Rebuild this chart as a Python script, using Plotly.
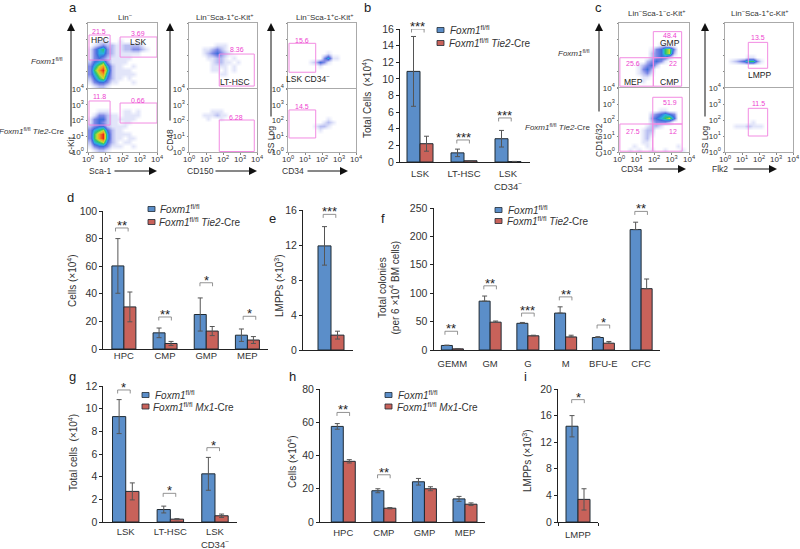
import plotly.graph_objects as go

W, H = 800, 549
FONT = "Liberation Sans"
TXT = "#333333"
BLUE, RED = "#5b8ec9", "#c8625a"
GATE = "#f28be2"
PCT = "#ee3fd0"

FOX = "<i>Foxm1</i><sup>fl/fl</sup>"
TIE = "<i>Foxm1</i><sup>fl/fl</sup> <i>Tie2</i>-Cre"
MX = "<i>Foxm1</i><sup>fl/fl</sup> <i>Mx1</i>-Cre"

# ---------- bar chart values ----------
b_cats = ["LSK", "LT-HSC", "LSK<br>CD34<sup>−</sup>"]
b_ctrl = [10.9, 1.1, 2.8]
b_ctrl_err = [4.2, 0.45, 1.0]
b_cre = [2.2, 0.15, 0.05]
b_cre_err = [0.9, 0.03, 0.02]
b_sig = ["***", "***", "***"]
b_sig_level = [16.0, 2.65, 5.3]
b_sig_x = [-0.05, 0.98, 1.93]

d_cats = ["HPC", "CMP", "GMP", "MEP"]
d_ctrl = [60.2, 11.7, 25, 10]
d_ctrl_err = [19.8, 3.5, 12, 4.5]
d_cre = [30.5, 4, 13, 6.5]
d_cre_err = [10.8, 1.5, 3.3, 2.5]
d_sig = ["**", "**", "*", "*"]
d_sig_level = [87.7, 23.2, 48, 23.7]
d_sig_x = [-0.05, 1.0, 2.0, 3.05]

e_cats = ["LMPP"]
e_ctrl = [11.9]
e_ctrl_err = [2.2]
e_cre = [1.7]
e_cre_err = [0.45]
e_sig = ["***"]
e_sig_level = [15.5]
e_sig_x = [-0.03]

f_cats = ["GEMM", "GM", "G", "M", "BFU-E", "CFC"]
f_ctrl = [8, 86, 47, 65, 22, 212]
f_ctrl_err = [0.5, 9, 1.5, 11, 1.5, 13]
f_cre = [2, 49, 25, 23, 12, 108]
f_cre_err = [0.5, 2, 1, 3, 3, 17]
f_sig = ["**", "**", "***", "**", "*", "**"]
f_sig_level = [33, 113, 65, 93.5, 44, 244]
f_sig_x = [-0.03, 1, 2, 3, 4, 5]

g_cats = ["LSK", "LT-HSC", "LSK<br>CD34<sup>−</sup>"]
g_ctrl = [9.3, 1.1, 4.25]
g_ctrl_err = [1.5, 0.3, 1.45]
g_cre = [2.7, 0.25, 0.55]
g_cre_err = [0.75, 0.05, 0.15]
g_sig = ["*", "*", "*"]
g_sig_level = [11.65, 2.53, 6.56]
g_sig_x = [-0.04, 0.98, 1.96]

h_cats = ["HPC", "CMP", "GMP", "MEP"]
h_ctrl = [57.5, 18.8, 24.2, 13.9]
h_ctrl_err = [1.7, 1.2, 2, 1.5]
h_cre = [36.5, 8.3, 20, 10.7]
h_cre_err = [1, 0.4, 1.2, 0.8]
h_sig = ["**", "**"]
h_sig_level = [65.9, 28.4]
h_sig_x = [0, 1]

i_cats = ["LMPP"]
i_ctrl = [14.4]
i_ctrl_err = [1.6]
i_cre = [3.4]
i_cre_err = [1.6]
i_sig = ["*"]
i_sig_level = [18.4]
i_sig_x = [0]

# ---------- flow cytometry densities, read by eye (rows top to bottom, 0-9) ----------
Z0 = "0000000000000000"
flow_a1_top = [Z0, Z0, Z0, Z0,
    "0011100100000000", "0123221122221000", "1356321122332100", "1355321111110000",
    "1343211111000000", "2456311110000000", "3578521100100000", "3689621111000000",
    "3578521111100000", "2467421101000000", "1344311000100000", "0122100000000000"]
flow_a1_bot = [Z0, Z0, Z0, Z0,
    "0000000000000000", "0011100011010000", "0133211011110000", "1344211111100000",
    "1343211011000000", "2344211110000000", "3567421100000000", "3689521111000000",
    "3689521101100000", "2567421011000000", "1344311100100000", "0122100000000000"]
flow_a2_top = [Z0, Z0, Z0, Z0, Z0,
    "0000001110000000", "0001123210000000", "0001234321000000", "0000112210100000",
    "0000012211010000", "0000011110100000", "0000011010100000", "0000000110000000",
    Z0, Z0, Z0]
flow_a2_bot = [Z0, Z0, Z0, Z0, Z0,
    "0000011100000000", "0001112110000000", "0000100100000000",
    Z0, Z0, Z0, Z0, Z0, Z0, Z0, Z0]
flow_a3_top = [Z0, Z0, Z0, Z0, Z0, Z0, Z0,
    "0000000001000000", "0000000035110000", "0000012431000000", "0000000100000000",
    Z0, Z0, Z0, Z0, Z0]
flow_a3_bot = [Z0, Z0, Z0, Z0, Z0, Z0, Z0,
    "0000000001000000", "0000000012100000", "0000001221000000", "0000000100000000",
    Z0, Z0, Z0, Z0, Z0]
flow_c1_top = [Z0, Z0, Z0, Z0, Z0,
    "0000000001100000", "0000000134673000", "0000000234672000", "0000000234420000",
    "0000002343100000", "0000123420000000", "0000134200000000", "0000123100000000",
    "0000011000000000", "0000010000000000", Z0]
flow_c1_bot = [Z0, Z0, Z0, Z0, Z0,
    "0000000001100000", "0000000234543000", "0000000345674000", "0000000233320000",
    "0000001221000000", "0000012200000000", "0000012100000000", "0000012000000000",
    "0000011000000000", "0001001000000100", "0010100100100010"]
flow_c2_top = [Z0, Z0, Z0, Z0, Z0, Z0, Z0, Z0,
    "0000011000000000", "0123466310000000",
    Z0, Z0, Z0, Z0, Z0, Z0]
flow_c2_bot = [Z0, Z0, Z0, Z0, Z0, Z0, Z0, Z0,
    "0000001000000000", "0011121110000000",
    Z0, Z0, Z0, Z0, Z0, Z0]

decades = [0, 1, 2, 3, 4]
decade_labels = ["10<sup>0</sup>", "10<sup>1</sup>", "10<sup>2</sup>", "10<sup>3</sup>", "10<sup>4</sup>"]

COLORS = [[0, "#ffffff"], [1/9, "#e2e5f9"], [2/9, "#b8bef1"], [3/9, "#7f8ae6"], [4/9, "#3f6fdc"],
          [5/9, "#29b0e0"], [6/9, "#2fc46a"], [7/9, "#c8dc30"], [8/9, "#f59a20"], [1, "#e8261c"]]

fig = go.Figure()
layout = {}
shapes = []
ann = []
axis_n = [0]


def px(x):
    return x / W


def py(y):
    return 1 - y / H


def text(x, y, s, size=9, color=TXT, xanchor="center", angle=0, font=FONT):
    ann.append(dict(x=px(x), y=py(y), xref="paper", yref="paper", text=s, showarrow=False,
                    xanchor=xanchor, yanchor="middle", textangle=angle,
                    font=dict(size=size, color=color, family=font)))


def arrow(x0, y0, x1, y1):
    ann.append(dict(x=px(x1), y=py(y1), ax=x0 - x1, ay=y0 - y1, xref="paper", yref="paper",
                    axref="pixel", ayref="pixel", text="", showarrow=True, arrowhead=2,
                    arrowsize=1.6, arrowwidth=1, arrowcolor="#111111"))


def new_axes(x0, x1, y0, y1):
    axis_n[0] += 1
    n = axis_n[0]
    suffix = "" if n == 1 else str(n)
    xa = dict(domain=[px(x0), px(x1)], anchor="y" + suffix)
    ya = dict(domain=[py(y1), py(y0)], anchor="x" + suffix)
    layout["xaxis" + suffix] = xa
    layout["yaxis" + suffix] = ya
    return "x" + suffix, "y" + suffix, xa, ya


def bar_panel(box, xrange, ymax, dtick, cats, ctrl, ctrl_err, cre, cre_err, bar_w,
              sig, sig_level, sig_x, title, title_pos, label_shift=0, upper_only=False, legend=None,
              end_ticks=False, cre_name=TIE, show_cats=True):
    xr, yr, xa, ya = new_axes(*box)
    idx = list(range(len(cats)))
    for vals, errs, color, name, off in ((ctrl, ctrl_err, BLUE, FOX, -bar_w), (cre, cre_err, RED, cre_name, 0)):
        fig.add_trace(go.Bar(
            x=idx, y=vals, width=bar_w, offset=off, name=name, xaxis=xr, yaxis=yr, showlegend=False,
            marker=dict(color=color, line=dict(color="#1f2a33", width=1)),
            error_y=dict(type="data", array=errs, arrayminus=[0] * len(errs) if upper_only else errs,
                         symmetric=False, color="#555555", thickness=1, width=2.5)))
    span = xrange[1] - xrange[0]
    pix = box[1] - box[0]
    half = 6.3 / pix * span
    drop = ymax * 3.5 / (box[3] - box[2])
    for s, lvl, cx in zip(sig, sig_level, sig_x):
        fig.add_trace(go.Scatter(x=[cx - half, cx - half, cx + half, cx + half],
                                 y=[lvl - drop, lvl, lvl, lvl - drop], mode="lines", cliponaxis=False,
                                 xaxis=xr, yaxis=yr, showlegend=False, hoverinfo="skip",
                                 line=dict(color="#777777", width=0.8)))
        ann.append(dict(x=cx, y=lvl, xref=xr, yref=yr, text=s, showarrow=False, yanchor="bottom",
                        yshift=-7, font=dict(size=13, color="#222222", family=FONT)))
    xa.update(range=xrange, type="linear", tickvals=idx, ticktext=cats, ticks="", showgrid=False, zeroline=False,
              showline=True, linecolor="#222222", linewidth=1, showticklabels=show_cats,
              ticklabelstandoff=label_shift,
              tickfont=dict(size=9.5, color=TXT, family=FONT))
    if end_ticks:
        xa["minor"] = dict(tickvals=[xrange[0], xrange[1]], ticks="outside", ticklen=3,
                           tickcolor="#222222", tickwidth=1, showgrid=False)
    ya.update(range=[0, ymax], dtick=dtick, ticks="outside", ticklen=3, tickcolor="#222222", showgrid=False,
              zeroline=False, showline=True, linecolor="#222222", linewidth=1,
              tickfont=dict(size=10.5, color=TXT, family=FONT))
    text(title_pos[0], title_pos[1], title, size=10, angle=-90)
    if legend:
        (sx, y1, y2, tx1, tx2) = legend
        for y, col, tx, s in ((y1, BLUE, tx1, FOX), (y2, RED, tx2, cre_name)):
            shapes.append(dict(type="rect", xref="paper", yref="paper", x0=px(sx), x1=px(sx + 7),
                               y0=py(y + 2.5), y1=py(y - 2.5), fillcolor=col,
                               line=dict(color="#1f2a33", width=0.8)))
            text(tx, y, s, size=10, xanchor="left")


def flow_panel(box, grid, gates, labels, show_labels):
    xr, yr, xa, ya = new_axes(*box)
    rows = [[int(c) for c in row] for row in reversed(grid)]
    centers = [0.125 + 0.25 * i for i in range(16)]
    fig.add_trace(go.Heatmap(x=centers, y=centers, z=rows, xaxis=xr, yaxis=yr, zmin=0, zmax=9, zsmooth="best",
                             colorscale=COLORS, showscale=False, hoverinfo="skip"))
    for g in gates:
        shapes.append(dict(type="rect", xref=xr, yref=yr, x0=g[0], x1=g[1], y0=g[2], y1=g[3],
                           line=dict(color=GATE, width=1), fillcolor="rgba(0,0,0,0)"))
    for (x, y, s, kind) in labels:
        is_pct = kind == "p"
        ann.append(dict(x=x, y=y, xref=xr, yref=yr, text=s, showarrow=False,
                        font=dict(size=7 if is_pct else 8.5, color=PCT if is_pct else "#222222", family=FONT)))
    for a in (xa, ya):
        a.update(range=[0, 4], tickvals=decades, ticktext=decade_labels, showticklabels=show_labels,
                 ticks="outside", ticklen=1.5, tickcolor="#888888", tickwidth=1, showgrid=False, zeroline=False,
                 showline=True, mirror=True, linecolor="#aaaaaa", linewidth=1,
                 tickfont=dict(size=8, color=TXT, family=FONT))
    xa["ticklabelstandoff"] = -2


# ---------- panel a ----------
flow_panel((88, 157, 23, 88), flow_a1_top, [(0.06, 1.28, 1.72, 3.26), (1.86, 4, 1.9, 3.14)],
           [(0.64, 3.45, "21.5", "p"), (0.7, 2.95, "HPC", "t"), (2.9, 3.38, "3.69", "p"), (2.9, 2.83, "LSK", "t")], False)
flow_panel((88, 157, 89, 152), flow_a1_bot, [(0.06, 1.28, 1.71, 3.24), (1.86, 4, 1.84, 3.11)],
           [(0.64, 3.5, "11.8", "p"), (2.9, 3.3, "0.66", "p")], True)
flow_panel((189, 257, 23, 88), flow_a2_top, [(1.78, 3.84, 0.12, 2.09)],
           [(2.8, 2.34, "8.36", "p"), (2.7, 0.37, "LT-HSC", "t")], False)
flow_panel((189, 257, 89, 152), flow_a2_bot, [(1.78, 3.84, 0.03, 2.03)],
           [(2.76, 2.2, "6.28", "p")], True)
flow_panel((288, 356, 23, 88), flow_a3_top, [(0.06, 1.63, 0.97, 2.75)],
           [(0.82, 2.9, "15.6", "p"), (1.2, 0.6, "LSK CD34<sup>−</sup>", "t")], False)
flow_panel((288, 356, 89, 152), flow_a3_bot, [(0.06, 1.63, 0.89, 2.67)],
           [(0.82, 2.86, "14.5", "p")], True)

# ---------- panel c ----------
flow_panel((619, 689, 23, 87), flow_c1_top,
           [(1.96, 3.58, 1.83, 3.46), (1.96, 3.58, 0.05, 1.83), (0.05, 1.96, 0.05, 1.83)],
           [(2.91, 3.19, "48.4", "p"), (2.91, 2.75, "GMP", "t"), (0.8, 1.44, "25.6", "p"),
            (3.07, 1.44, "22", "p"), (0.8, 0.31, "MEP", "t"), (2.91, 0.31, "CMP", "t")], False)
flow_panel((619, 689, 88, 152), flow_c1_bot,
           [(1.93, 3.61, 1.75, 3.42), (1.93, 3.61, 0.05, 1.75), (0.05, 1.93, 0.05, 1.75)],
           [(2.91, 3.12, "51.9", "p"), (0.8, 1.3, "27.5", "p"), (3.07, 1.3, "12", "p")], True)
flow_panel((725, 793, 23, 87), flow_c2_top, [(1.37, 2.51, 1.17, 2.79)],
           [(1.92, 3.12, "13.5", "p"), (2.0, 0.75, "LMPP", "t")], False)
flow_panel((725, 793, 88, 152), flow_c2_bot, [(1.37, 2.51, 1.0, 2.73)],
           [(1.95, 3.06, "11.5", "p")], True)

# flow axis captions and arrows
for x, y, s, x0, x1 in ((100, 171, "Sca-1", 113, 157), (200, 171, "CD150", 214, 257), (293, 171, "CD34", 306, 348),
                        (632, 169, "CD34", 647, 686), (720, 169, "Flk2", 732, 777)):
    text(x, y, s, size=8.5)
    arrow(x0, y, x1, y)
for x, y, s, y0 in ((71, 145, "c-Kit", 128), (170, 140, "CD48", 122), (271, 140, "SS Log", 118),
                    (599, 140, "CD16/32", 113), (705, 140, "SS Log", 118)):
    text(x, y, s, size=8.5, angle=-90)
    arrow(x, y0, x, 23)
for x, y, s in ((125, 17, "Lin<sup>−</sup>"), (224, 17, "Lin<sup>−</sup>Sca-1<sup>+</sup>c-Kit<sup>+</sup>"),
                (324, 17, "Lin<sup>−</sup>Sca-1<sup>+</sup>c-Kit<sup>+</sup>"),
                (656, 13, "Lin<sup>−</sup>Sca-1<sup>−</sup>c-Kit<sup>+</sup>"),
                (759, 13, "Lin<sup>−</sup>Sca-1<sup>+</sup>c-Kit<sup>+</sup>")):
    text(x, y, s, size=8)
for x, y, s in ((65, 61, FOX), (66, 131, TIE), (592, 53, FOX), (592, 127, TIE)):
    text(x, y, s, size=8, xanchor="right")

# ---------- bar panels ----------
bar_panel((400, 530, 29, 162), [-0.5 + 2 / 44, 2.5], 16, 2, b_cats, b_ctrl, b_ctrl_err, b_cre, b_cre_err, 13 / 44,
          b_sig, b_sig_level, b_sig_x, "Total Cells  (×10<sup>4</sup>)", (367, 99), label_shift=3,
          legend=(437, 30, 43, 448, 447))
bar_panel((103.3, 268, 211, 349), [-0.5, 3.5], 100, 20, d_cats, d_ctrl, d_ctrl_err, d_cre, d_cre_err, 12 / 41.2,
          d_sig, d_sig_level, d_sig_x, "Cells (×10<sup>4</sup>)", (72, 281), label_shift=-2,
          legend=(148, 209, 222, 158, 157))
bar_panel((303, 353, 210, 350), [-0.56, 0.44], 16, 4, e_cats, e_ctrl, e_ctrl_err, e_cre, e_cre_err, 0.26,
          e_sig, e_sig_level, e_sig_x, "LMPPs (×10<sup>3</sup>)", (279, 286), show_cats=False)
bar_panel((433.5, 660, 208, 350), [-0.5, 5.5], 250, 50, f_cats, f_ctrl, f_ctrl_err, f_cre, f_cre_err, 11 / 37.7,
          f_sig, f_sig_level, f_sig_x, "Total colonies<br>(per 6 ×10<sup>4</sup> BM cells)", (388.5, 288), label_shift=5,
          upper_only=True, legend=(495, 210, 221, 506, 505))
bar_panel((103.4, 237.3, 386, 522), [-0.5, 2.5], 12, 2, g_cats, g_ctrl, g_ctrl_err, g_cre, g_cre_err, 13.2 / 44.6,
          g_sig, g_sig_level, g_sig_x, "Total cells  (×10<sup>4</sup>)", (73, 453), label_shift=1,
          legend=(142, 395, 406.5, 153, 151), cre_name=MX)
bar_panel((320, 485.3, 389, 522), [-0.574, 3.5], 80, 20, h_cats, h_ctrl, h_ctrl_err, h_cre, h_cre_err, 12 / 40.6,
          h_sig, h_sig_level, h_sig_x, "Cells (×10<sup>4</sup>)", (292, 462), label_shift=2,
          legend=(385, 395, 406.5, 395.7, 395), cre_name=MX)
bar_panel((558, 598, 389, 522), [-0.5, 0.5], 20, 4, i_cats, i_ctrl, i_ctrl_err, i_cre, i_cre_err, 0.3,
          i_sig, i_sig_level, i_sig_x, "LMPPs (×10<sup>3</sup>)", (527, 461), label_shift=4, end_ticks=True, cre_name=MX)

for x, y, s in ((73, 8, "a"), (367, 8, "b"), (598, 8, "c"), (70, 198, "d"), (272, 218, "e"),
                (383, 218, "f"), (72, 376, "g"), (292, 376, "h"), (525, 376, "i")):
    text(x, y, s, size=13, color="#222222")

fig.update_layout(width=W, height=H, autosize=False, margin=dict(l=0, r=0, t=0, b=0, pad=0, autoexpand=False),
                  paper_bgcolor="white", plot_bgcolor="white", showlegend=False, shapes=shapes, annotations=ann,
                  font=dict(family=FONT, color=TXT), **layout)
fig.write_html("out.html", config=dict(displayModeBar=False),
               post_script="document.body.style.margin='0';")
